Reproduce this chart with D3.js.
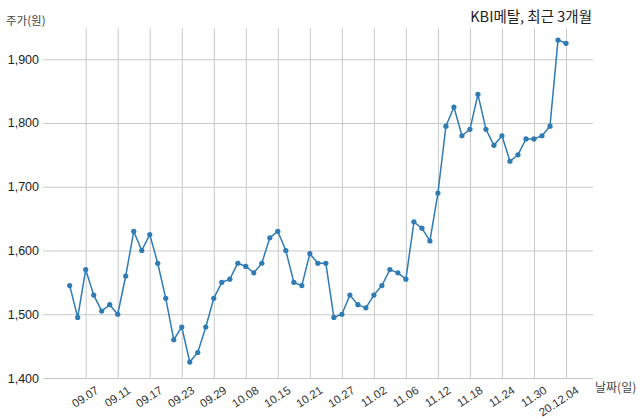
<!DOCTYPE html>
<html>
<head>
<meta charset="utf-8">
<script src="https://cdn.jsdelivr.net/npm/d3@7"></script>
<style>
  body { margin: 0; background: #fff; }
  svg { font-family: "Noto Sans CJK KR", "Noto Sans", sans-serif; }
</style>
</head>
<body>
<div id="chart"></div>
<script>
const dates = [
  "09.03","09.04","09.07","09.08","09.09","09.10","09.11","09.14","09.15","09.16",
  "09.17","09.18","09.21","09.22","09.23","09.24","09.25","09.28","09.29","10.05",
  "10.06","10.07","10.08","10.12","10.13","10.14","10.15","10.16","10.19","10.20",
  "10.21","10.22","10.23","10.26","10.27","10.28","10.29","10.30","11.02","11.03",
  "11.04","11.05","11.06","11.09","11.10","11.11","11.12","11.13","11.16","11.17",
  "11.18","11.19","11.20","11.23","11.24","11.25","11.26","11.27","11.30","12.01",
  "12.02","12.03","12.04"
];
const prices = [
  1545,1495,1570,1530,1505,1515,1500,1560,1630,1600,
  1625,1580,1525,1460,1480,1425,1440,1480,1525,1550,
  1555,1580,1575,1565,1580,1620,1630,1600,1550,1545,
  1595,1580,1580,1495,1500,1530,1515,1510,1530,1545,
  1570,1565,1555,1645,1635,1615,1690,1795,1825,1780,
  1790,1845,1790,1765,1780,1740,1750,1775,1775,1780,
  1795,1930,1925
];
const xTickDates = ["09.07","09.11","09.17","09.23","09.29","10.08","10.15","10.21",
  "10.27","11.02","11.06","11.12","11.18","11.24","11.30","12.04"];
const xTickLabels = ["09.07","09.11","09.17","09.23","09.29","10.08","10.15","10.21",
  "10.27","11.02","11.06","11.12","11.18","11.24","11.30","20.12.04"];
const yTicks = [1400, 1500, 1600, 1700, 1800, 1900];

const width = 640;
const height = 419;
const margin = {top: 28, right: 48, bottom: 41, left: 43};

const data = dates.map((d, i) => ({date: d, price: prices[i]}));

const xScale = d3.scalePoint()
  .domain(dates)
  .range([69.7, 566]);

const yScale = d3.scaleLinear()
  .domain([1400, 1949])
  .range([height - margin.bottom, margin.top]);

const svg = d3.select("#chart")
  .append("svg")
  .attr("width", width)
  .attr("height", height);

// y axis + horizontal grid
const yAxis = d3.axisLeft(yScale)
  .tickValues(yTicks)
  .tickSize(-(width - margin.right - margin.left + 1))
  .tickPadding(4)
  .tickFormat(d3.format(","));

const yAxisGroup = svg.append("g")
  .attr("transform", `translate(${margin.left}, 0)`)
  .call(yAxis);
yAxisGroup.select(".domain").remove();
yAxisGroup.selectAll("line").attr("stroke", "#c9c9c9");
yAxisGroup.selectAll("text")
  .attr("fill", "#222")
  .attr("font-size", 12.5);

// x axis + vertical grid
const xAxis = d3.axisBottom(xScale)
  .tickValues(xTickDates)
  .tickSize(-(height - margin.bottom - margin.top))
  .tickFormat((d, i) => xTickLabels[i]);

const xAxisGroup = svg.append("g")
  .attr("transform", `translate(0, ${height - margin.bottom})`)
  .call(xAxis);
xAxisGroup.select(".domain").remove();
xAxisGroup.selectAll("line").attr("stroke", "#c9c9c9");
xAxisGroup.selectAll("text")
  .attr("x", 0)
  .attr("y", 0)
  .attr("dy", "0.35em")
  .attr("transform", "translate(11, 11) rotate(-33)")
  .attr("text-anchor", "end")
  .attr("fill", "#333")
  .attr("font-size", 11.5);

// line
const line = d3.line()
  .x(d => xScale(d.date))
  .y(d => yScale(d.price));

svg.append("path")
  .datum(data)
  .attr("fill", "none")
  .attr("stroke", "#2f7bb3")
  .attr("stroke-width", 1.5)
  .attr("d", line);

svg.selectAll(".dot")
  .data(data)
  .join("circle")
  .attr("class", "dot")
  .attr("cx", d => xScale(d.date))
  .attr("cy", d => yScale(d.price))
  .attr("r", 2.6)
  .attr("fill", "#2f7bb3");

// titles
svg.append("text")
  .attr("x", 592)
  .attr("y", 22)
  .attr("text-anchor", "end")
  .attr("font-size", 14.5)
  .attr("fill", "#222")
  .text("KBI메탈, 최근 3개월");

svg.append("text")
  .attr("x", 6)
  .attr("y", 25)
  .attr("font-size", 11.5)
  .attr("fill", "#444")
  .text("주가(원)");

svg.append("text")
  .attr("x", 595)
  .attr("y", 392)
  .attr("font-size", 12)
  .attr("fill", "#444")
  .text("날짜(일)");
</script>
</body>
</html>
